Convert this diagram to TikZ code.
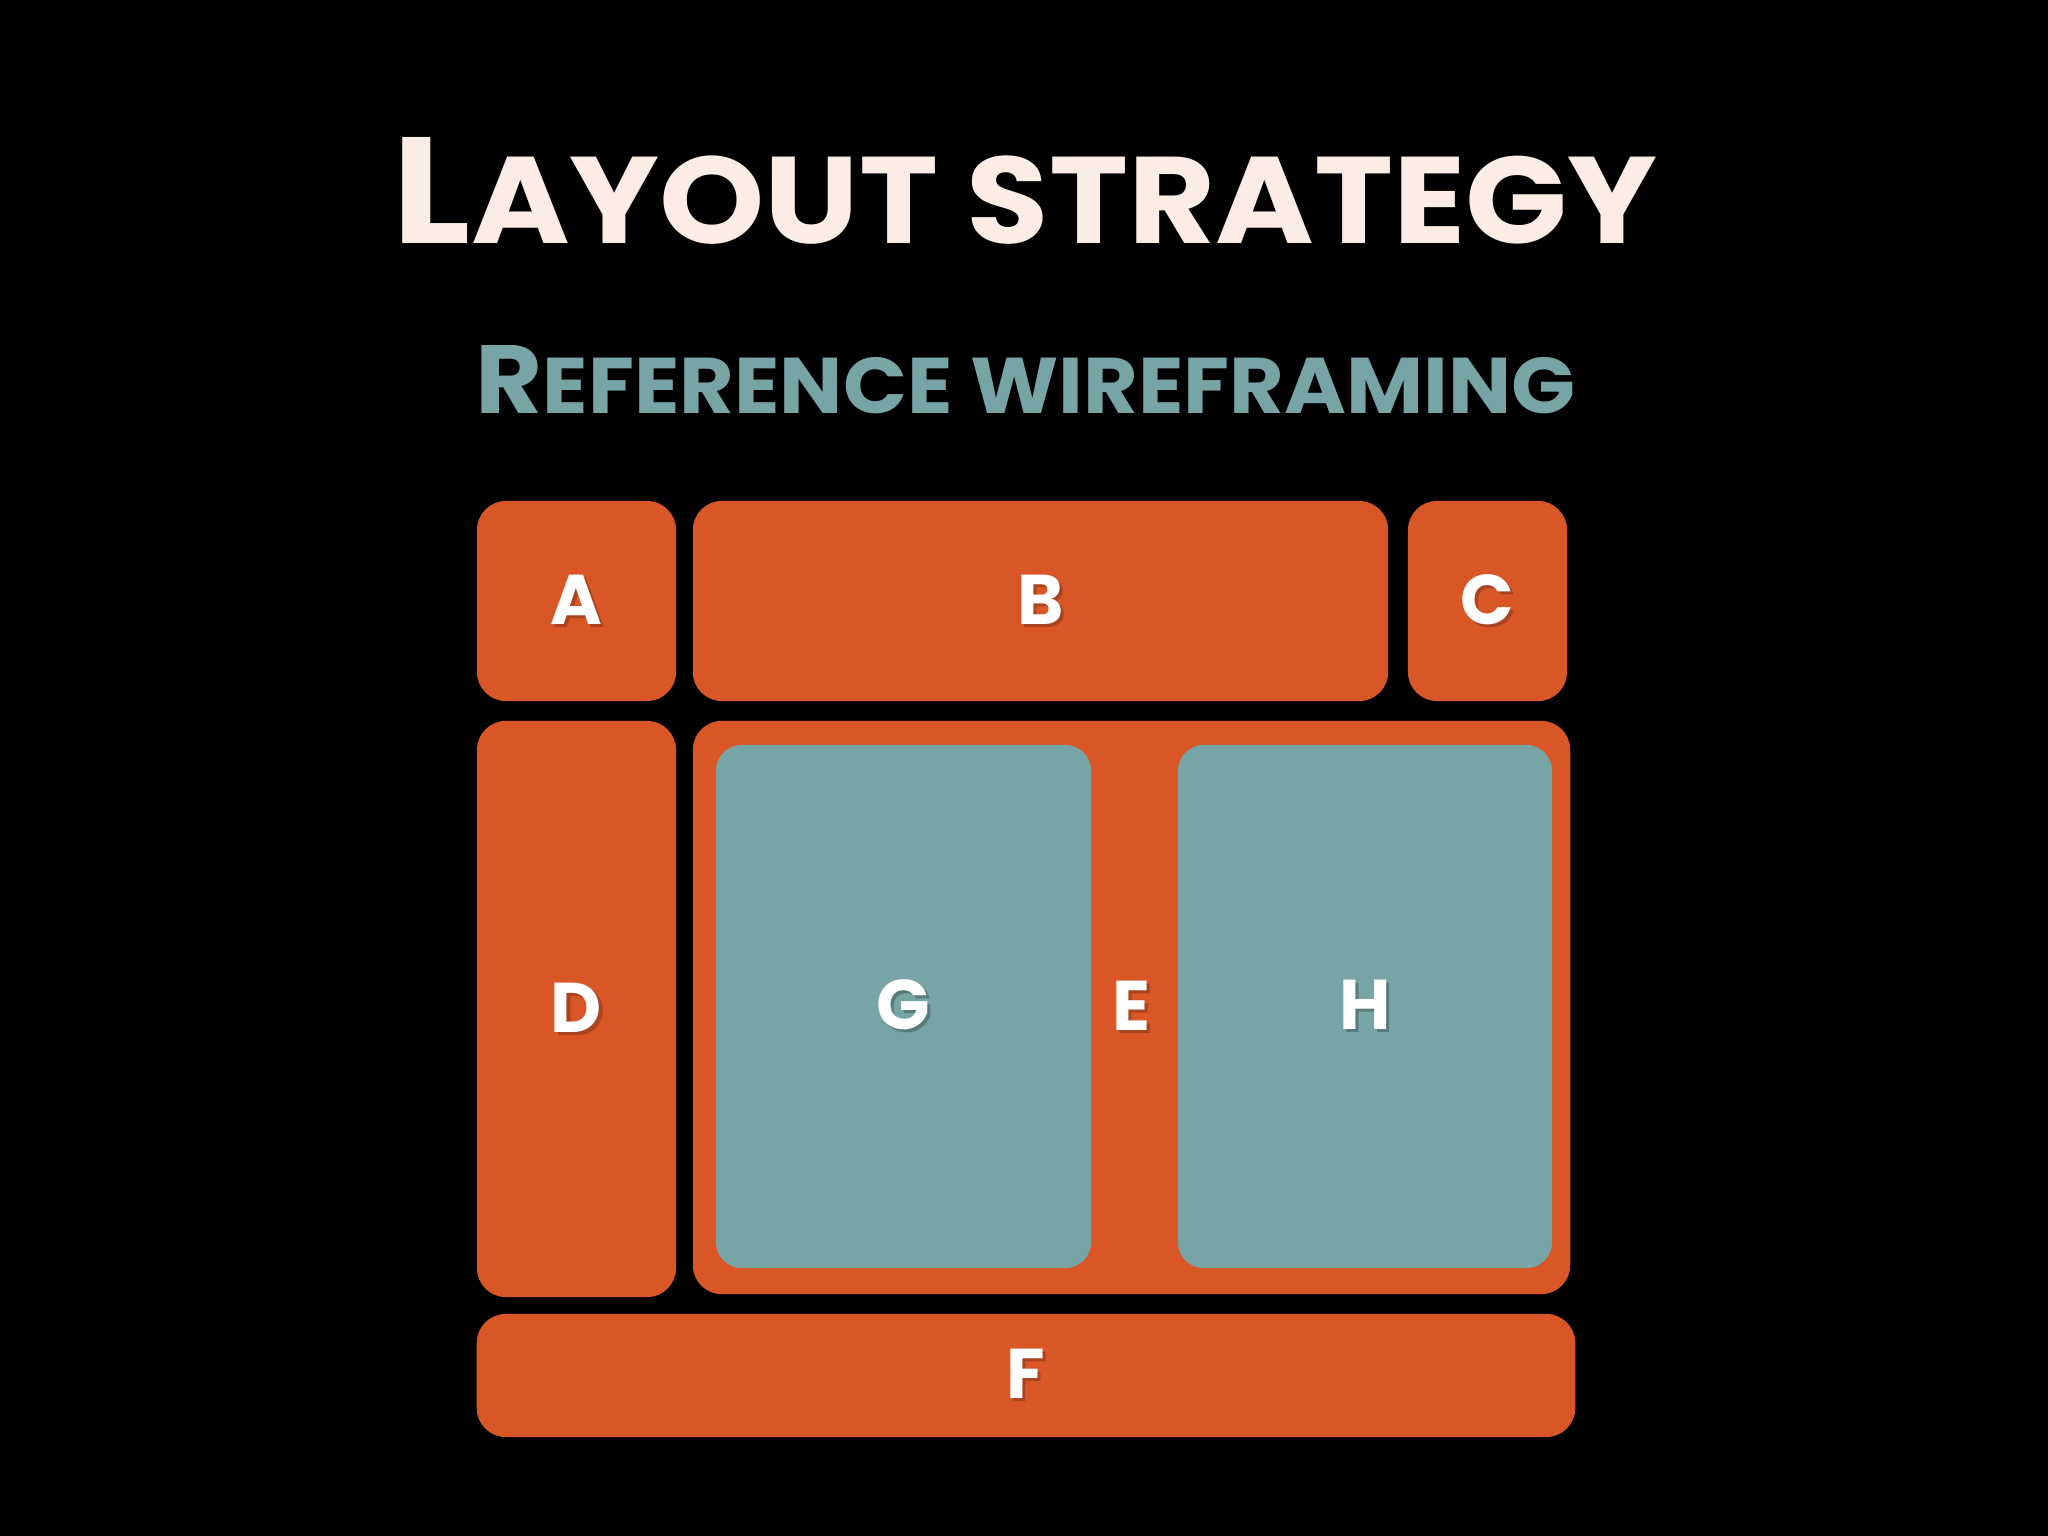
\documentclass[tikz,border=0pt]{standalone}
\usepackage{fontspec}
\setmainfont{Poppins}
\usepackage{graphicx}
\definecolor{bgc}{HTML}{000000}
\definecolor{orng}{HTML}{D95726}
\definecolor{tealc}{HTML}{77A4A5}
\definecolor{cream}{HTML}{FBEDE3}
\newcommand\shd[2]{\rlap{\hspace{0.9pt}\raisebox{-0.9pt}{\color{#1}#2}}#2}
\newcommand\sclarge[1]{{\fontsize{20}{20}\selectfont #1}}
\newcommand\scsmall[1]{{\fontsize{16.3}{16}\selectfont #1}}
\tikzset{
  obox/.style={fill=orng, rounded corners=0.29cm, inner sep=0pt, text=white,
    font=\bfseries\fontsize{20}{20}\selectfont},
  tbox/.style={fill=tealc, rounded corners=0.26cm, inner sep=0pt, text=white,
    font=\bfseries\fontsize{20}{20}\selectfont},
  ttl/.style={inner sep=0pt, anchor=south west}
}
\begin{document}
\begin{tikzpicture}[x=0.01cm,y=-0.01cm]
\fill[bgc] (0,0) rectangle (2048,1536);
\useasboundingbox (0,0) rectangle (2048,1536);

\node[ttl, text=cream] (title) at (392,245)
  {\resizebox{12.64cm}{1.06cm}{\bfseries\sclarge{L}\scsmall{AYOUT STRATEGY}}};
\node[ttl, text=tealc] (subtitle) at (475,415)
  {\resizebox{10.99cm}{0.68cm}{\bfseries\sclarge{R}\scsmall{EFERENCE WIREFRAMING}}};

\node[obox, minimum width=1.99cm, minimum height=2.00cm] (A) at (576.5,601) {\shd{orng!78!black}{A}};
\node[obox, minimum width=6.95cm, minimum height=2.00cm] (B) at (1040.5,601) {\shd{orng!78!black}{B}};
\node[obox, minimum width=1.59cm, minimum height=2.00cm] (C) at (1487.5,601) {\shd{orng!78!black}{C}};
\node[obox, minimum width=1.99cm, minimum height=5.76cm] (D) at (576.5,1009) {\shd{orng!78!black}{D}};
\node[obox, minimum width=8.77cm, minimum height=5.73cm] (E) at (1131.5,1007.5) {\shd{orng!78!black}{E}};
\node[tbox, minimum width=3.75cm, minimum height=5.23cm] (G) at (903.5,1006.5) {\shd{tealc!75!black}{G}};
\node[tbox, minimum width=3.74cm, minimum height=5.23cm] (H) at (1365,1006.5) {\shd{tealc!75!black}{H}};
\node[obox, minimum width=10.98cm, minimum height=1.23cm] (F) at (1026,1375.5) {\shd{orng!78!black}{F}};
\end{tikzpicture}
\end{document}
